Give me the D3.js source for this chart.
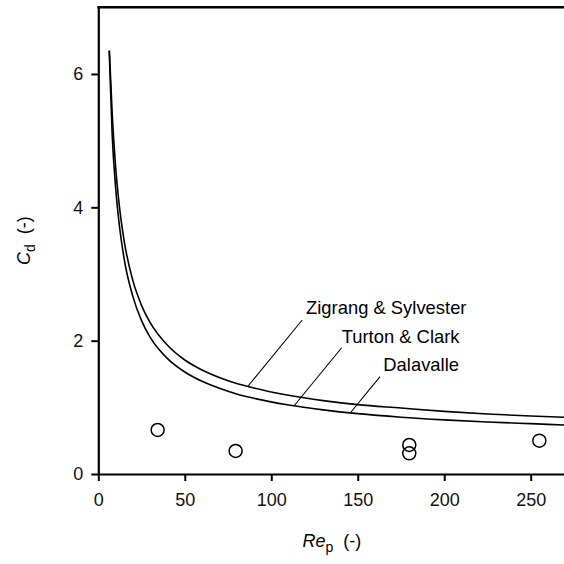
<!DOCTYPE html>
<html>
<head>
<meta charset="utf-8">
<script src="https://cdnjs.cloudflare.com/ajax/libs/d3/7.8.5/d3.min.js"></script>
<style>
  body { margin: 0; background: #fff; }
  svg { display: block; font-family: "Liberation Sans", Arial, Helvetica, sans-serif; }
</style>
</head>
<body>
<svg width="564" height="564"></svg>
<script>
// drag curves (Re_p, Cd)
var upperRe = [6.4, 8, 10, 12, 15, 20, 25, 30, 40, 50, 60, 75, 90, 110, 130, 150, 175, 200, 225, 250, 270];
var upperCd = [6.35, 5.42, 4.61, 4.06, 3.49, 2.90, 2.53, 2.27, 1.93, 1.71, 1.56, 1.40, 1.29, 1.18, 1.10, 1.04, 0.99, 0.94, 0.90, 0.87, 0.85];

var lowerRe = [6.3, 8, 10, 12, 15, 20, 25, 30, 35, 40, 50, 60, 70, 80, 90, 110, 130, 150, 175, 200, 225, 250, 270];
var lowerCd = [6.35, 5.1, 4.3, 3.77, 3.22, 2.66, 2.30, 2.05, 1.87, 1.73, 1.53, 1.39, 1.285, 1.20, 1.135, 1.035, 0.962, 0.905, 0.852, 0.812, 0.780, 0.755, 0.735];

// measured points
var pointRe = [34.3, 79.4, 179.8, 179.8, 255];
var pointCd = [0.66, 0.345, 0.435, 0.31, 0.50];

// curve labels and their leader lines (data coords)
var labels = ['Zigrang & Sylvester', 'Turton & Clark', 'Dalavalle'];
var labelRe = [120.1, 140.7, 164.8];
var labelCd = [2.395, 1.97, 1.545];
var leaderFrom = [[117.9, 2.31], [140.7, 1.894], [162.9, 1.46]];
var leaderTo = [[86.6, 1.32], [113.1, 1.02], [146.1, 0.93]];

var xTicks = [0, 50, 100, 150, 200, 250];
var yTicks = [0, 2, 4, 6];

var margin = {top: 7.3, left: 98.3, bottom: 90};
var svg = d3.select('svg');
var H = 564;

var x = d3.scaleLinear().domain([0, 270]).range([margin.left, margin.left + 270 * 1.7296]);
var y = d3.scaleLinear().domain([0, 7]).range([H - margin.bottom, margin.top]);

var line = d3.line()
  .x(d => x(d[0]))
  .y(d => y(d[1]))
  .curve(d3.curveMonotoneX);

var curves = [
  d3.zip(upperRe, upperCd),
  d3.zip(lowerRe, lowerCd)
];

svg.selectAll('path.curve')
  .data(curves)
  .enter()
  .append('path')
    .attr('class', 'curve')
    .attr('d', line)
    .attr('fill', 'none')
    .attr('stroke', '#000')
    .attr('stroke-width', 1.6);

// leaders
svg.selectAll('line.leader')
  .data(labels)
  .enter()
  .append('line')
    .attr('x1', (d, i) => x(leaderFrom[i][0]))
    .attr('y1', (d, i) => y(leaderFrom[i][1]))
    .attr('x2', (d, i) => x(leaderTo[i][0]))
    .attr('y2', (d, i) => y(leaderTo[i][1]))
    .attr('stroke', '#000')
    .attr('stroke-width', 1.1);

svg.selectAll('text.lab')
  .data(labels)
  .enter()
  .append('text')
    .attr('x', (d, i) => x(labelRe[i]))
    .attr('y', (d, i) => y(labelCd[i]))
    .style('font-size', '18.4px')
    .text(d => d);

// open circles
svg.selectAll('circle')
  .data(d3.zip(pointRe, pointCd))
  .enter()
  .append('circle')
    .attr('cx', d => x(d[0]))
    .attr('cy', d => y(d[1]))
    .attr('r', 6.5)
    .attr('fill', 'none')
    .attr('stroke', '#000')
    .attr('stroke-width', 1.5);

// axes
var xAxis = d3.axisBottom(x).tickValues(xTicks).tickSize(7).tickSizeOuter(0).tickPadding(12);
var yAxis = d3.axisLeft(y).tickValues(yTicks).tickSize(7).tickSizeOuter(0).tickPadding(8)
  .tickFormat(d3.format('d'));

var gx = svg.append('g')
  .attr('transform', 'translate(0,' + y(0) + ')')
  .call(xAxis);
var gy = svg.append('g')
  .attr('transform', 'translate(' + x(0) + ',0)')
  .call(yAxis);

[gx, gy].forEach(function(g) {
  g.select('.domain').attr('stroke-width', 2.2);
  g.selectAll('.tick line').attr('stroke-width', 2);
  g.selectAll('.tick text')
    .style('font-size', '18px')
    .style('font-family', '"Liberation Sans", Arial, sans-serif')
    .attr('fill', '#111');
});

// top frame line
svg.append('line')
  .attr('x1', x(0) - 1).attr('x2', 564)
  .attr('y1', y(7)).attr('y2', y(7))
  .attr('stroke', '#000')
  .attr('stroke-width', 2.5);

// axis titles
var xt = svg.append('text')
  .attr('x', x(135))
  .attr('y', 547)
  .attr('text-anchor', 'middle')
  .style('font-size', '18px');
xt.append('tspan').style('font-style', 'italic').text('Re');
xt.append('tspan').attr('dy', 5).style('font-size', '14px').text('p');
xt.append('tspan').attr('dy', -5).text('\u00a0 (-)');

var yt = svg.append('text')
  .attr('transform', 'translate(30,' + y(3.5) + ') rotate(-90)')
  .attr('text-anchor', 'middle')
  .style('font-size', '18px');
yt.append('tspan').style('font-style', 'italic').text('C');
yt.append('tspan').attr('dy', 5).style('font-size', '14px').text('d');
yt.append('tspan').attr('dy', -5).text('\u00a0 (-)');
</script>
</body>
</html>
